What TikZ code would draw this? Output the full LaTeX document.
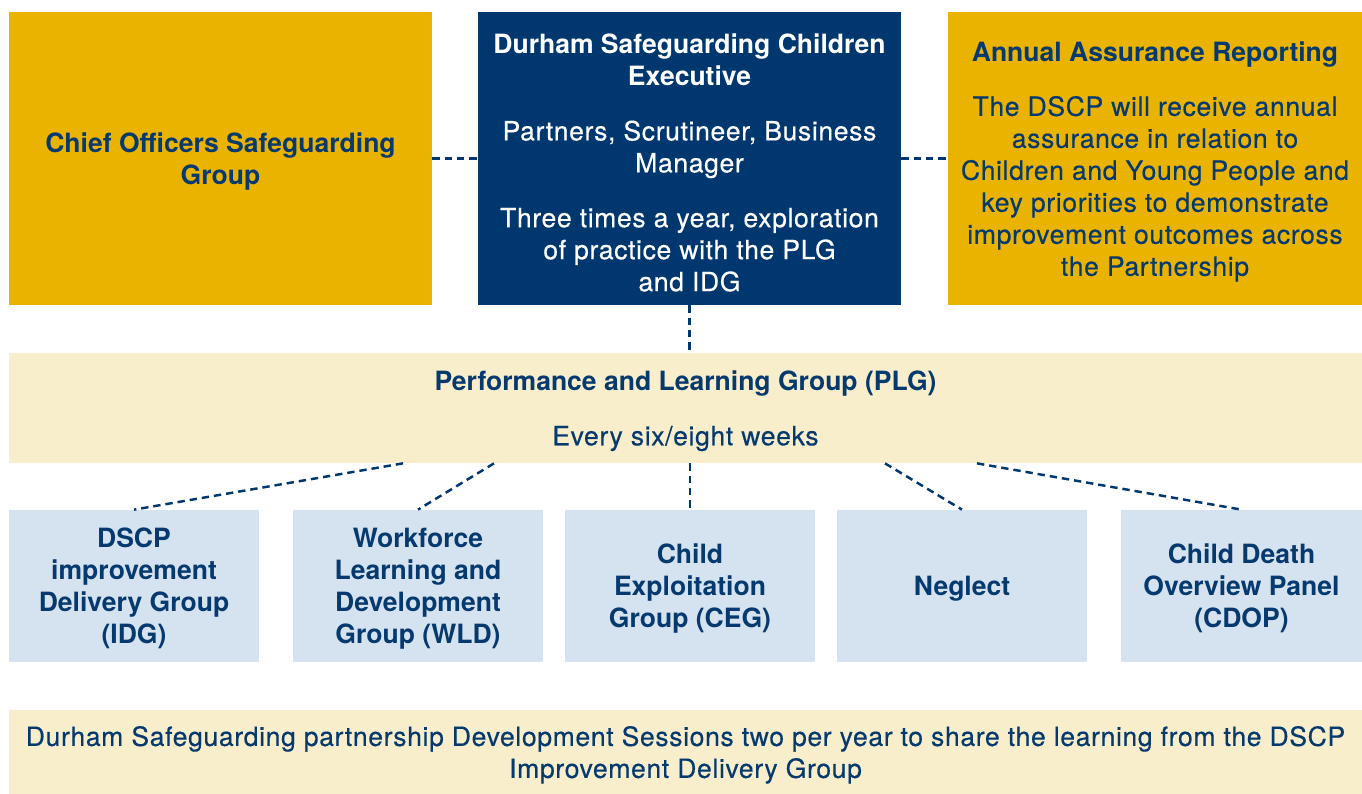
\documentclass[tikz,border=0pt]{standalone}
\usepackage{fontspec}
\setmainfont{TeX Gyre Heros}
\newfontfamily\medfont{TeX Gyre Heros}[FakeBold=0.4, LetterSpace=2.4]
\newcommand{\hd}[1]{{\normalfont\bfseries #1}}
\usetikzlibrary{positioning}
\definecolor{dscpgold}{HTML}{EAB300}
\definecolor{dscpnavy}{HTML}{00376F}
\definecolor{dscpcream}{HTML}{F9EECB}
\definecolor{dscpblue}{HTML}{D5E2EF}
\definecolor{dscptext}{HTML}{063A6F}
\tikzset{
	box/.style={rectangle, inner sep=0pt, align=center, text=dscptext,
		font=\fontsize{15.1pt}{18.2pt}\selectfont\medfont, text depth=-2.8pt},
	bold/.style={font=\fontsize{15.1pt}{18.2pt}\selectfont\bfseries},
	goldbox/.style={box, fill=dscpgold, minimum height=5.86cm},
	navybox/.style={box, fill=dscpnavy, text=white, minimum height=5.86cm},
	creambox/.style={box, fill=dscpcream, minimum width=27.06cm},
	groupbox/.style={box, bold, fill=dscpblue, minimum width=5cm, minimum height=3.04cm},
	link/.style={draw=dscpnavy, line width=1.4pt, dash pattern=on 4.2pt off 2.8pt}
}

\begin{document}
\begin{tikzpicture}[y=-1cm]
	\useasboundingbox (0,0) rectangle (27.24,15.88);
	% top row
	\node[goldbox, bold, minimum width=8.46cm] (chief) at (4.41,3.17)
		{Chief Officers Safeguarding\\ Group};
	\node[navybox, minimum width=8.46cm] (exec) at (13.79,3.17)
		{\hd{\rule{0pt}{15.8pt}Durham Safeguarding Children}\\ \hd{Executive}\\[13pt]
		Partners, Scrutineer, Business\\ Manager\\[13pt]
		Three times a year, exploration\\ of practice with the PLG\\ and IDG};
	\node[goldbox, minimum width=8.28cm] (annual) at (23.10,3.17)
		{\hd{Annual Assurance Reporting}\\[13pt]
		The DSCP will receive annual\\ assurance in relation to\\
		Children and Young People and\\ key priorities to demonstrate\\
		improvement outcomes across\\ the Partnership};
	% PLG
	\node[creambox, minimum height=2.2cm] (plg) at (13.71,8.16)
		{\hd{Performance and Learning Group (PLG)}\\[13pt] Every six/eight weeks};
	% groups
	\node[groupbox] (idg) at (2.68,11.72)
		{DSCP\\ improvement\\ Delivery Group\\ (IDG)};
	\node[groupbox] (wld) at (8.36,11.72)
		{Workforce\\ Learning and\\ Development\\ Group (WLD)};
	\node[groupbox] (ceg) at (13.80,11.72)
		{Child\\ Exploitation\\ Group (CEG)};
	\node[groupbox] (neg) at (19.24,11.72) {Neglect};
	\node[groupbox, minimum width=4.82cm] (cdop) at (24.83,11.72)
		{Child Death\\ Overview Panel\\ (CDOP)};
	% sessions
	\node[creambox, minimum height=1.68cm] (dev) at (13.71,15.04)
		{Durham Safeguarding partnership Development Sessions two per year to share the learning from the DSCP\\ Improvement Delivery Group};
	% connectors
	\draw[link] (chief) -- (exec);
	\draw[link] (exec) -- (annual);
	\draw[link] (exec.south) -- (exec.south |- plg.north);
	\foreach \g/\dx in {idg/-5.65, wld/-3.83, ceg/0.09, neg/3.99, cdop/5.83}
		\draw[link] ([xshift=\dx cm]plg.south) -- (\g.north);
\end{tikzpicture}
\end{document}
